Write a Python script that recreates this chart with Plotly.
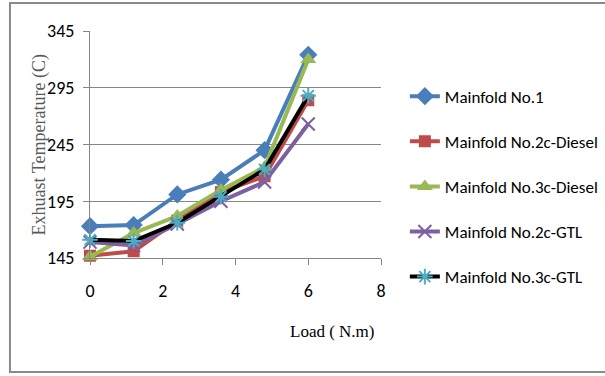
import plotly.graph_objects as go

load = [0, 1.2, 2.4, 3.6, 4.8, 6]
names = ["Mainfold No.1", "Mainfold No.2c-Diesel", "Mainfold No.3c-Diesel",
         "Mainfold No.2c-GTL", "Mainfold No.3c-GTL"]
m1 = [173, 174, 201, 214, 240, 324]
m2c_diesel = [147, 151, 178, 203, 217, 284]
m3c_diesel = [146, 167, 182, 205, 225, 320]
m2c_gtl = [159, 156, 175, 195, 212, 263]
m3c_gtl = [161, 160, 176, 199, 223, 288]
x_ticks = [0, 2, 4, 6, 8]
y_ticks = [145, 195, 245, 295, 345]

series = [m1, m2c_diesel, m3c_diesel, m2c_gtl, m3c_gtl]
line_colors = ["#4A7EBB", "#BE4B48", "#98B954", "#7D60A0", "#000000"]
marker_styles = [
    dict(symbol="diamond", size=14, color="#4A7EBB"),
    dict(symbol="square", size=12, color="#BE4B48"),
    dict(symbol="triangle-up", size=14, color="#98B954"),
    dict(symbol="x-thin-open", size=13, color="#7D60A0", line=dict(color="#7D60A0", width=2)),
    dict(symbol="asterisk-open", size=13, color="#4BACC6", line=dict(color="#4BACC6", width=2)),
]

fig = go.Figure()
for i, (nm, ys) in enumerate(zip(names, series)):
    fig.add_trace(go.Scatter(
        x=load, y=ys, name=nm, mode="lines+markers",
        line=dict(color=line_colors[i], width=4),
        marker=marker_styles[i], cliponaxis=False,
        legendgroup=nm,
    ))

sans = "Carlito, Calibri, sans-serif"
tick_font = dict(family=sans, size=18, color="#000")

fig.update_layout(
    width=605, height=376,
    margin=dict(l=90, r=224, t=31, b=118, autoexpand=False),
    paper_bgcolor="white", plot_bgcolor="white",
    showlegend=True,
    legend=dict(
        x=1.082, xanchor="left", y=0.79, yanchor="top",
        font=dict(family=sans, size=17, color="#000"),
        tracegroupgap=20, itemwidth=30, bgcolor="rgba(0,0,0,0)",
    ),
    xaxis=dict(
        range=[0, 8], tickvals=x_ticks, ticktext=[str(v) for v in x_ticks],
        showgrid=False, zeroline=False, showline=True, linecolor="#868686", linewidth=1,
        ticks="outside", ticklen=6, tickcolor="#868686",
        tickfont=tick_font, ticklabelstandoff=10,
    ),
    yaxis=dict(
        range=[145, 345], tickvals=y_ticks, ticktext=[str(v) for v in y_ticks],
        showgrid=True, gridcolor="#868686", gridwidth=1, zeroline=False,
        showline=True, linecolor="#868686", linewidth=1,
        ticks="outside", ticklen=6, tickcolor="#868686",
        tickfont=tick_font, ticklabelstandoff=5,
    ),
    annotations=[
        dict(
            text="Load ( N.m)", xref="paper", yref="paper", x=0.835, y=-0.325,
            xanchor="center", yanchor="middle", showarrow=False,
            font=dict(family="Liberation Serif, Times New Roman, serif", size=17, color="#000"),
        ),
        dict(
            text="Exhuast Temperature (C)", xref="paper", yref="paper", x=-0.172, y=0.5,
            xanchor="center", yanchor="middle", showarrow=False, textangle=-90,
            font=dict(family="Liberation Serif, Times New Roman, serif", size=18, color="#595959"),
        ),
    ],
    shapes=[dict(
        type="rect", xref="paper", yref="paper",
        x0=-0.275, x1=1.8, y0=-0.502, y1=1.123,
        line=dict(color="#8a8a8a", width=2), fillcolor="rgba(0,0,0,0)", layer="below",
    )],
)

fig.write_html("out.html")
